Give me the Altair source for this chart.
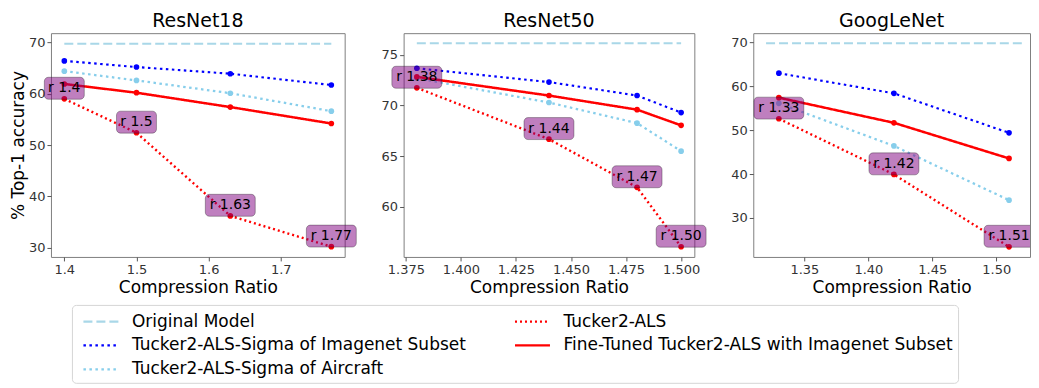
import altair as alt
import pandas as pd

# ---------------- data ----------------
S_ORIG = "Original Model"
S_IMNET = "Tucker2-ALS-Sigma of Imagenet Subset"
S_AIR = "Tucker2-ALS-Sigma of Aircraft"
S_TUCK = "Tucker2-ALS"
S_FT = "Fine-Tuned Tucker2-ALS with Imagenet Subset"

# legend order (Vega fills the 2 legend columns top-to-bottom)
series_order = [S_ORIG, S_IMNET, S_AIR, S_TUCK, S_FT]
series_colors = ["#a9d7e8", "#0000ff", "#87ceeb", "#ff0000", "#ff0000"]
series_dashes = [[9, 4], [2.5, 3.5], [2.5, 3.5], [2, 3], [1, 0]]

r18_x = [1.4, 1.5, 1.63, 1.77]
r18_orig_x = [1.4, 1.77]
r18_orig = 69.76
r18_imnet = [66.4, 65.2, 63.9, 61.7]
r18_air = [64.4, 62.6, 60.1, 56.6]
r18_tucker = [59.0, 52.4, 36.2, 30.2]
r18_ft = [61.9, 60.2, 57.4, 54.2]
r18_labels = ["r 1.4", "r 1.5", "r 1.63", "r 1.77"]

r50_x = [1.38, 1.44, 1.48, 1.50]
r50_orig_x = [1.38, 1.50]
r50_orig = 76.13
r50_imnet = [73.67, 72.31, 70.98, 69.3]
r50_air = [72.7, 70.29, 68.26, 65.5]
r50_tucker = [71.74, 66.68, 61.93, 56.07]
r50_ft = [72.82, 70.98, 69.59, 68.04]
r50_labels = ["r 1.38", "r 1.44", "r 1.47", "r 1.50"]

gn_x = [1.33, 1.42, 1.51]
gn_orig_x = [1.32, 1.52]
gn_orig = 69.78
gn_imnet = [62.98, 58.38, 49.39]
gn_air = [56.1, 46.4, 34.04]
gn_tucker = [52.6, 39.9, 23.4]
gn_ft = [57.4, 51.67, 43.55]
gn_labels = ["r 1.33", "r 1.42", "r 1.51"]

FONT = "DejaVu Sans"
PLOT_H = 224


def long_df(x, orig_x, orig, imnet, air, tucker, ft):
    rows = [dict(x=xv, v=orig, s=S_ORIG) for xv in orig_x]
    for name, vals in [(S_IMNET, imnet), (S_AIR, air), (S_TUCK, tucker), (S_FT, ft)]:
        rows += [dict(x=xv, v=vv, s=name) for xv, vv in zip(x, vals)]
    return pd.DataFrame(rows)


def legend():
    return alt.Legend(title=None, orient="none", legendX=21, legendY=272,
                      columns=2, symbolType="M-0.5,0L3,0", symbolSize=400,
                      symbolStrokeWidth=2.2, labelFontSize=17, labelFont=FONT,
                      labelColor="#000", labelLimit=600, labelOffset=32,
                      rowPadding=4, columnPadding=42, padding=5,
                      strokeColor="#d5d5d5", cornerRadius=4, fillColor="white")


def panel(title, x, orig_x, orig, imnet, air, tucker, ft, labels,
          xdom, ydom, xticks, xfmt, yticks, ytitle, width, tuck_w, clip_box):
    df = long_df(x, orig_x, orig, imnet, air, tucker, ft)
    lab = pd.DataFrame({"x": x, "v": tucker, "label": labels})

    xenc = alt.X("x:Q", scale=alt.Scale(domain=xdom, nice=False, zero=False),
                 axis=alt.Axis(values=xticks, format=xfmt, title="Compression Ratio"))
    yenc = alt.Y("v:Q", scale=alt.Scale(domain=ydom, nice=False, zero=False),
                 axis=alt.Axis(values=yticks, title=ytitle))
    color = alt.Color("s:N", scale=alt.Scale(domain=series_order, range=series_colors),
                      legend=legend())
    dash = alt.StrokeDash("s:N", scale=alt.Scale(domain=series_order, range=series_dashes),
                          legend=legend())
    widths = [2, 2.5, 2.5, tuck_w, 2.4]
    sw = alt.StrokeWidth("s:N", scale=alt.Scale(domain=series_order, range=widths), legend=None)

    lines = alt.Chart(df).mark_line().encode(x=xenc, y=yenc, color=color, strokeDash=dash,
                                             strokeWidth=sw)
    pts = alt.Chart(df).transform_filter(alt.datum.s != S_ORIG).mark_point(
        filled=True, size=32, opacity=1).encode(x="x:Q", y="v:Q", color=color)

    box_style = dict(fill="#800080", fillOpacity=0.5, stroke="#000000", strokeOpacity=0.3,
                     strokeWidth=1, cornerRadius=4, yOffset=-21.6, y2Offset=0.4,
                     clip=clip_box)
    rect_short = alt.Chart(lab).transform_filter("length(datum.label) <= 5").mark_rect(
        xOffset=-20, x2Offset=20, **box_style).encode(x="x:Q", x2="x", y="v:Q", y2="v")
    rect_long = alt.Chart(lab).transform_filter("length(datum.label) > 5").mark_rect(
        xOffset=-25, x2Offset=25, **box_style).encode(x="x:Q", x2="x", y="v:Q", y2="v")
    text = alt.Chart(lab).mark_text(dy=-10.6, fontSize=14, font=FONT, color="#000",
                                    baseline="middle", align="center").encode(
        x="x:Q", y="v:Q", text="label:N")

    return alt.layer(lines, pts, rect_short, rect_long, text).resolve_scale(
        strokeWidth="independent").properties(
        width=width, height=PLOT_H,
        title=alt.Title(title, fontSize=19, font=FONT, fontWeight="normal", anchor="middle",
                        offset=2, color="#000"))


p1 = panel("ResNet18", r18_x, r18_orig_x, r18_orig, r18_imnet, r18_air, r18_tucker, r18_ft,
           r18_labels, [1.3815, 1.7885], [28.2, 71.8], [1.4, 1.5, 1.6, 1.7], ".1f",
           [30, 40, 50, 60, 70], "% Top-1 accuracy", 294, 1.2, False)
p2 = panel("ResNet50", r50_x, r50_orig_x, r50_orig, r50_imnet, r50_air, r50_tucker, r50_ft,
           r50_labels, [1.374, 1.506], [55.07, 77.13],
           [1.375, 1.4, 1.425, 1.45, 1.475, 1.5], ".3f", [60, 65, 70, 75], None, 291, 2.4, False)
p3 = panel("GoogLeNet", gn_x, gn_orig_x, gn_orig, gn_imnet, gn_air, gn_tucker, gn_ft,
           gn_labels, [1.31, 1.5264], [21.1, 72.1], [1.35, 1.4, 1.45, 1.5], ".2f",
           [30, 40, 50, 60, 70], None, 277, 2.4, True)

chart = alt.hconcat(p1, p2, p3, spacing=59, bounds="flush").resolve_scale(
    strokeWidth="independent").properties(
    padding={"left": 0, "top": 3, "right": 0, "bottom": 0}
).configure_view(stroke="#808080", strokeWidth=1).configure_axis(
    domain=False, tickColor="#555", tickSize=4, labelFontSize=13, labelFont=FONT,
    labelColor="#333", titleFontSize=17, titleFont=FONT, titleFontWeight="normal",
    titleColor="#000", grid=False, labelPadding=3, titlePadding=3
).configure_axisY(titlePadding=1, labelPadding=2)

chart.save("out.html", embed_options={"renderer": "svg", "actions": False})
